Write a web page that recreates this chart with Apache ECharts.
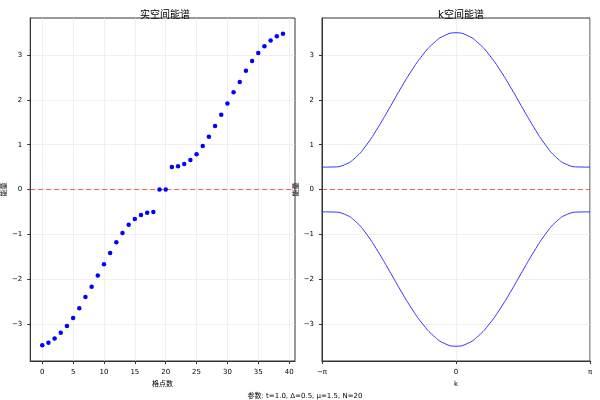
<!DOCTYPE html>
<html>
<head>
<meta charset="UTF-8">
<script src="https://cdn.jsdelivr.net/npm/echarts@6/dist/echarts.min.js"></script>
<style>html,body{margin:0;padding:0;background:#fff}#c{width:600px;height:400px}</style>
</head>
<body>
<div id="c"></div>
<script>
var siteIdx = [];
for (var i = 0; i < 40; i++) siteIdx.push(i);
var realEnergy = [-3.48,-3.42,-3.33,-3.2,-3.05,-2.87,-2.65,-2.4,-2.17,-1.92,-1.67,-1.42,-1.18,-0.97,-0.79,-0.66,-0.57,-0.52,-0.5,0.0,
                  0.0,0.5,0.52,0.57,0.66,0.79,0.97,1.18,1.42,1.67,1.92,2.17,2.4,2.65,2.87,3.05,3.2,3.33,3.42,3.48];
var kDeg = [-180,-165,-150,-135,-120,-105,-90,-75,-60,-45,-30,-15,0,15,30,45,60,75,90,105,120,135,150,165,180];
var upperBand = [0.5,0.503,0.551,0.712,1.0,1.378,1.803,2.237,2.646,2.999,3.27,3.442,3.5,3.442,3.27,2.999,2.646,2.237,1.803,1.378,1.0,0.712,0.551,0.503,0.5];
var lowerBand = [-0.5,-0.503,-0.551,-0.712,-1.0,-1.378,-1.803,-2.237,-2.646,-2.999,-3.27,-3.442,-3.5,-3.442,-3.27,-2.999,-2.646,-2.237,-1.803,-1.378,-1.0,-0.712,-0.551,-0.503,-0.5];
var zeroSiteX = [-1.95, 40.95];
var zeroKX = [-180, 180];
var zeroY = [0, 0];
var yTicks = [-3, -2, -1, 0, 1, 2, 3];
var xTicks = [0, 5, 10, 15, 20, 25, 30, 35, 40];
var kTicks = [-Math.PI, 0, Math.PI];

var font = 'DejaVu Sans, Noto Sans CJK SC, sans-serif';
function pts(xs, ys, f) { return xs.map(function (x, i) { return [f ? f(x) : x, ys[i]]; }); }
var toRad = function (d) { return d * Math.PI / 180; };
var axisLine = {show: true, onZero: false, lineStyle: {color: '#333'}};
var grid = {show: true, lineStyle: {color: '#e6e6e6', width: 0.6}};
var lbl = {fontSize: 7, color: '#000', fontFamily: font};
var nm = {fontSize: 7, color: '#000', fontFamily: font};
var zeroStyle = {color: '#ff2020', type: [5, 3], width: 1.2, opacity: 0.7};
function yAxis(idx) {
    return {type: 'value', gridIndex: idx, min: -3.83, max: 3.83,
        name: '能量', nameLocation: 'middle', nameGap: 19, nameTextStyle: nm,
        axisLine: axisLine, axisTick: {show: true, length: 3, customValues: yTicks},
        axisLabel: Object.assign({customValues: yTicks, formatter: function (v) { return String(v).replace('-', '−'); }}, lbl),
        splitLine: grid};
}
var chart = echarts.init(document.getElementById('c'));
chart.setOption({
    animation: false,
    title: [
        {text: '实空间能谱', left: 160, top: 5, textAlign: 'center', textStyle: {fontSize: 10, fontWeight: 'normal', color: '#000', fontFamily: font}},
        {text: 'k空间能谱', left: 456, top: 5, textAlign: 'center', textStyle: {fontSize: 10, fontWeight: 'normal', color: '#000', fontFamily: font}},
        {text: '参数: t=1.0, Δ=0.5, μ=1.5, N=20', left: 300, top: 388, textAlign: 'center', textStyle: {fontSize: 7, fontWeight: 'normal', color: '#000', fontFamily: font}}
    ],
    grid: [
        {left: 25, width: 270, top: 18, height: 343, show: true, borderColor: '#333', borderWidth: 1},
        {left: 322, width: 268, top: 18, height: 343, show: true, borderColor: '#333', borderWidth: 1}
    ],
    xAxis: [
        {type: 'value', gridIndex: 0, min: -1.95, max: 40.95,
            name: '格点数', nameLocation: 'middle', nameGap: 14, nameTextStyle: nm,
            axisLine: axisLine, axisTick: {show: true, length: 3, customValues: xTicks},
            axisLabel: Object.assign({customValues: xTicks}, lbl),
            splitLine: grid},
        {type: 'value', gridIndex: 1, min: -Math.PI, max: Math.PI,
            name: 'k', nameLocation: 'middle', nameGap: 14, nameTextStyle: nm,
            axisLine: axisLine, axisTick: {show: true, length: 3, customValues: kTicks},
            axisLabel: Object.assign({customValues: kTicks,
                formatter: function (v) { return v < -1 ? '−π' : (v > 1 ? 'π' : '0'); }}, lbl),
            splitLine: grid}
    ],
    yAxis: [yAxis(0), yAxis(1)],
    series: [
        {type: 'line', xAxisIndex: 0, yAxisIndex: 0, data: pts(zeroSiteX, zeroY), showSymbol: false, silent: true, z: 3, lineStyle: zeroStyle, itemStyle: {color: '#ff2020'}},
        {type: 'line', xAxisIndex: 1, yAxisIndex: 1, data: pts(zeroKX, zeroY, toRad), showSymbol: false, silent: true, z: 3, lineStyle: zeroStyle, itemStyle: {color: '#ff2020'}},
        {type: 'scatter', xAxisIndex: 0, yAxisIndex: 0, data: pts(siteIdx, realEnergy), symbolSize: 4.5, z: 6, itemStyle: {color: '#0000ff', opacity: 1}},
        {type: 'line', xAxisIndex: 1, yAxisIndex: 1, data: pts(kDeg, upperBand, toRad), smooth: true, showSymbol: false, lineStyle: {color: '#3333ff', width: 1}},
        {type: 'line', xAxisIndex: 1, yAxisIndex: 1, data: pts(kDeg, lowerBand, toRad), smooth: true, showSymbol: false, lineStyle: {color: '#3333ff', width: 1}}
    ]
});
</script>
</body>
</html>
